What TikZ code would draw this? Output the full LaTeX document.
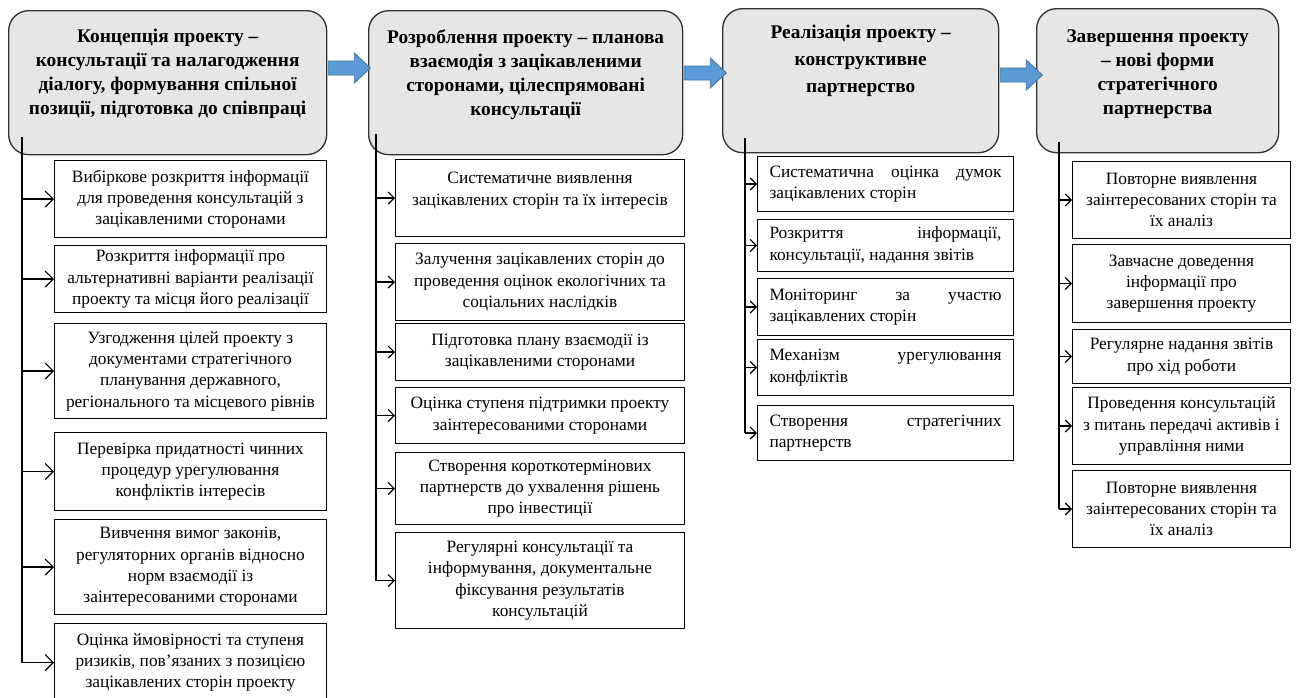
\documentclass[tikz,border=0pt]{standalone}
\usepackage{fontspec}
\setmainfont{Liberation Serif}
\usetikzlibrary{arrows.meta, positioning}

\definecolor{headgray}{RGB}{231, 230, 230}
\definecolor{arrblue}{RGB}{91, 155, 213}
\definecolor{arrborder}{RGB}{65, 113, 156}

\newcommand{\itemfont}{\fontsize{13}{16}\selectfont}
\newcommand{\headfont}{\fontsize{14.5}{18}\selectfont\bfseries}

\tikzset{
  head/.style={draw=black!80, fill=headgray, line width=1pt, rounded corners=15pt, anchor=north west, inner sep=0pt},
  headtxt/.style={font=\headfont, align=center, anchor=north, inner sep=0pt},
  box/.style={draw, line width=0.75pt, fill=white, anchor=north west, inner sep=0pt, font=\itemfont},
  colA/.style={box, minimum width=204pt, align=center},
  colB/.style={box, minimum width=216.75pt, align=center},
  colC/.style={box, minimum width=192pt, text width=174pt, align=justify},
  colD/.style={box, minimum width=163.5pt, align=center},
  ht/.style={minimum height=#1*0.75pt},
  trunk/.style={line width=0.9pt},
  bigbranch/.style={line width=0.9pt, -{Straight Barb[length=6pt, width=12pt]}},
  branch/.style={line width=0.9pt, -{Straight Barb[length=4.5pt, width=9pt]}},
  bigarrow/.style={fill=arrblue, draw=arrborder, line width=0.6pt}
}

\begin{document}
\begin{tikzpicture}[x=0.75pt, y=-0.75pt]
  \useasboundingbox (0,0) rectangle (1296,697);

  % stage headers
  \node[head, minimum width=238.5pt, minimum height=108pt] (h1) at (8,10) {};
  \node[head, minimum width=235.5pt, minimum height=108pt] (h2) at (368,10) {};
  \node[head, minimum width=207pt, minimum height=108pt] (h3) at (722,8) {};
  \node[head, minimum width=181.5pt, minimum height=108pt] (h4) at (1036,8) {};

  \node[headtxt] (h1t) at ([shift={(0,19)}]h1.north) {Концепція проекту –\\ консультації та налагодження\\ діалогу, формування спільної\\ позиції, підготовка до співпраці};
  \node[headtxt] (h2t) at ([shift={(0,19)}]h2.north) {Розроблення проекту – планова\\ взаємодія з зацікавленими\\ сторонами, цілеспрямовані\\ консультації};
  \node[headtxt, font=\fontsize{14.5}{20}\selectfont\bfseries] (h3t) at ([shift={(0,17)}]h3.north) {Реалізація проекту –\\ конструктивне\\ партнерство};
  \node[headtxt] (h4t) at ([shift={(0,21)}]h4.north) {Завершення проекту\\ – нові форми\\ стратегічного\\ партнерства};

  % column 1
  \node[colA, ht=77] (c11) at (54,160) {Вибіркове розкриття інформації\\ для проведення консультацій з\\ зацікавленими сторонами};
  \node[colA, ht=67] (c12) at (54,245) {Розкриття інформації про\\ альтернативні варіанти реалізації\\ проекту та місця його реалізації};
  \node[colA, ht=95] (c13) at (54,323) {Узгодження цілей проекту з\\ документами стратегічного\\ планування державного,\\ регіонального та місцевого рівнів};
  \node[colA, ht=78] (c14) at (54,432) {Перевірка придатності чинних\\ процедур урегулювання\\ конфліктів інтересів};
  \node[colA, ht=95] (c15) at (54,519) {Вивчення вимог законів,\\ регуляторних органів відносно\\ норм взаємодії із\\ заінтересованими сторонами};
  \node[colA, ht=78] (c16) at (54,623) {Оцінка ймовірності та ступеня\\ ризиків, пов’язаних з позицією\\ зацікавлених сторін проекту};

  % column 2
  \node[colB, ht=77] (c21) at (395,159) {Систематичне виявлення\\ зацікавлених сторін та їх інтересів\\[-2pt]};
  \node[colB, ht=77] (c22) at (395,243) {Залучення зацікавлених сторін до\\ проведення оцінок екологічних та\\ соціальних наслідків};
  \node[colB, ht=57] (c23) at (395,323) {Підготовка плану взаємодії із\\ зацікавленими сторонами};
  \node[colB, ht=56] (c24) at (395,387) {Оцінка ступеня підтримки проекту\\ заінтересованими сторонами};
  \node[colB, ht=72] (c25) at (395,452) {Створення короткотермінових\\ партнерств до ухвалення рішень\\ про інвестиції};
  \node[colB, ht=96] (c26) at (395,532) {Регулярні консультації та\\ інформування, документальне\\ фіксування результатів\\ консультацій};

  % column 3
  \node[colC, ht=55] (c31) at (757,156) {Систематична оцінка думок\linebreak зацікавлених сторін};
  \node[colC, ht=52] (c32) at (757,219) {Розкриття інформації,\linebreak консультації, надання звітів};
  \node[colC, ht=57] (c33) at (757,278) {Моніторинг за участю\linebreak зацікавлених сторін};
  \node[colC, ht=56] (c34) at (757,339) {Механізм урегулювання\linebreak конфліктів};
  \node[colC, ht=55] (c35) at (757,405) {Створення стратегічних\linebreak партнерств};

  % column 4
  \node[colD, ht=77] (c41) at (1072,161) {Повторне виявлення\\ заінтересованих сторін та\\ їх аналіз};
  \node[colD, ht=78] (c42) at (1072,244) {Завчасне доведення\\ інформації про\\ завершення проекту};
  \node[colD, ht=54] (c43) at (1072,329) {Регулярне надання звітів\\ про хід роботи};
  \node[colD, ht=77] (c44) at (1072,387) {Проведення консультацій\\ з питань передачі активів і\\ управління ними};
  \node[colD, ht=77] (c45) at (1072,470) {Повторне виявлення\\ заінтересованих сторін та\\ їх аналіз};

  % trunks and branches
  \coordinate (s1) at (22,137);
  \coordinate (s2) at (376,134);
  \coordinate (s3) at (745,138);
  \coordinate (s4) at (1059,142);
  \draw[trunk] (s1) -- (s1 |- c16.west);
  \draw[trunk] (s2) -- (s2 |- c26.west);
  \draw[trunk] (s3) -- (s3 |- c35.west);
  \draw[trunk] (s4) -- (s4 |- c45.west);
  \foreach \c in {c11,c12,c13,c14,c15,c16}
    \draw[bigbranch] (s1 |- \c.west) -- (\c.west);
  \foreach \c in {c21,c22,c23,c24,c25,c26}
    \draw[branch] (s2 |- \c.west) -- (\c.west);
  \foreach \c in {c31,c32,c33,c34,c35}
    \draw[branch] (s3 |- \c.west) -- (\c.west);
  \foreach \c in {c41,c42,c43,c44,c45}
    \draw[branch] (s4 |- \c.west) -- (\c.west);

  % block arrows between stages
  \foreach \a/\dy in {h1/51, h2/56, h3/60}
    \draw[bigarrow] ([shift={(1,\dy)}]\a.north east) -- ++(26,0) -- ++(0,-8) -- ++(16,15) -- ++(-16,15) -- ++(0,-8) -- ++(-26,0) -- cycle;
\end{tikzpicture}
\end{document}
